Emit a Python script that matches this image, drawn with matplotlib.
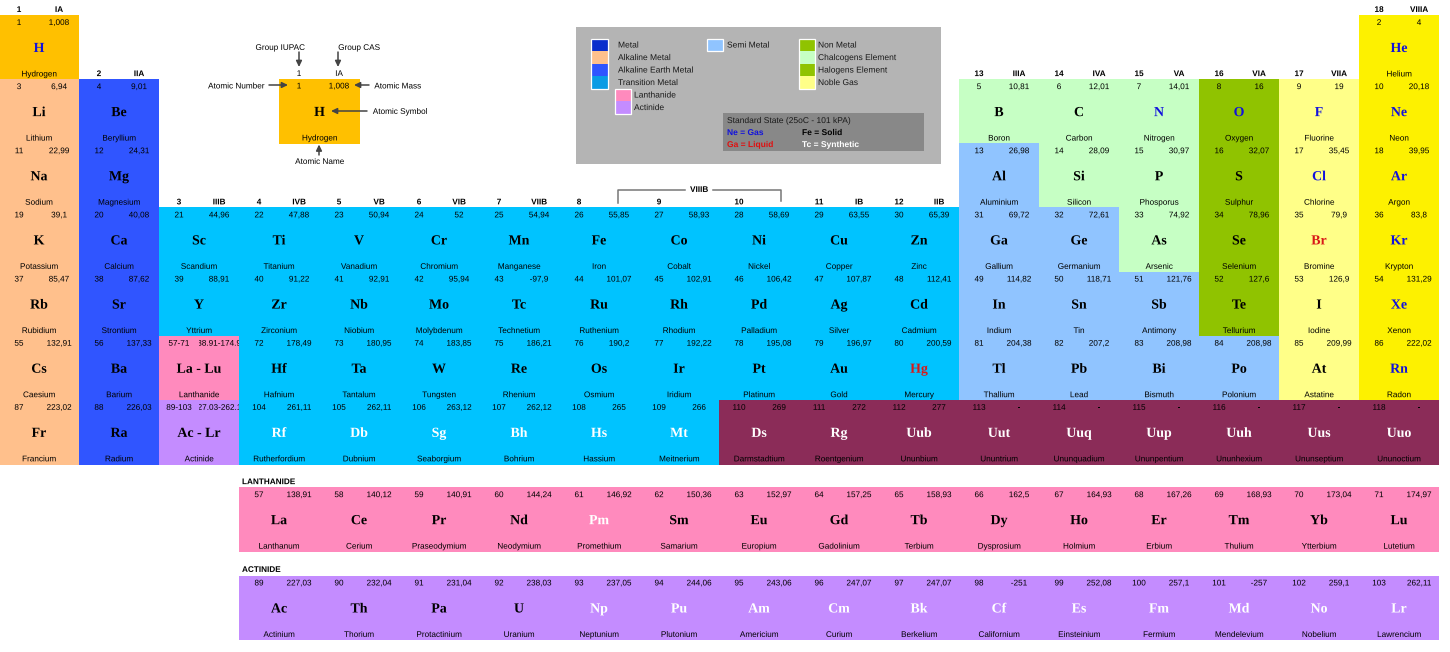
import matplotlib
matplotlib.use("Agg")
import matplotlib.pyplot as plt
import matplotlib.patheffects as pe
from matplotlib.patches import Rectangle

SANS = "Liberation Sans"
SERIF = "Liberation Serif"

# ---- data -------------------------------------------------------------
symbols = ["H","He","Li","Be","B","C","N","O","F","Ne","Na","Mg","Al","Si","P","S","Cl","Ar",
 "K","Ca","Sc","Ti","V","Cr","Mn","Fe","Co","Ni","Cu","Zn","Ga","Ge","As","Se","Br","Kr",
 "Rb","Sr","Y","Zr","Nb","Mo","Tc","Ru","Rh","Pd","Ag","Cd","In","Sn","Sb","Te","I","Xe",
 "Cs","Ba","La - Lu","Hf","Ta","W","Re","Os","Ir","Pt","Au","Hg","Tl","Pb","Bi","Po","At","Rn",
 "Fr","Ra","Ac - Lr","Rf","Db","Sg","Bh","Hs","Mt","Ds","Rg","Uub","Uut","Uuq","Uup","Uuh","Uus","Uuo"]
names = ["Hydrogen","Helium","Lithium","Beryllium","Boron","Carbon","Nitrogen","Oxygen","Fluorine","Neon",
 "Sodium","Magnesium","Aluminium","Silicon","Phosporus","Sulphur","Chlorine","Argon",
 "Potassium","Calcium","Scandium","Titanium","Vanadium","Chromium","Manganese","Iron","Cobalt","Nickel","Copper","Zinc","Gallium","Germanium","Arsenic","Selenium","Bromine","Krypton",
 "Rubidium","Strontium","Yttrium","Zirconium","Niobium","Molybdenum","Technetium","Ruthenium","Rhodium","Palladium","Silver","Cadmium","Indium","Tin","Antimony","Tellurium","Iodine","Xenon",
 "Caesium","Barium","Lanthanide","Hafnium","Tantalum","Tungsten","Rhenium","Osmium","Iridium","Platinum","Gold","Mercury","Thallium","Lead","Bismuth","Polonium","Astatine","Radon",
 "Francium","Radium","Actinide","Rutherfordium","Dubnium","Seaborgium","Bohrium","Hassium","Meitnerium","Darmstadtium","Roentgenium","Ununbium","Ununtrium","Ununquadium","Ununpentium","Ununhexium","Ununseptium","Ununoctium"]
numbers = ["1","2","3","4","5","6","7","8","9","10","11","12","13","14","15","16","17","18",
 "19","20","21","22","23","24","25","26","27","28","29","30","31","32","33","34","35","36",
 "37","38","39","40","41","42","43","44","45","46","47","48","49","50","51","52","53","54",
 "55","56","57-71","72","73","74","75","76","77","78","79","80","81","82","83","84","85","86",
 "87","88","89-103","104","105","106","107","108","109","110","111","112","113","114","115","116","117","118"]
masses = ["1,008","4","6,94","9,01","10,81","12,01","14,01","16","19","20,18",
 "22,99","24,31","26,98","28,09","30,97","32,07","35,45","39,95",
 "39,1","40,08","44,96","47,88","50,94","52","54,94","55,85","58,93","58,69","63,55","65,39","69,72","72,61","74,92","78,96","79,9","83,8",
 "85,47","87,62","88,91","91,22","92,91","95,94","-97,9","101,07","102,91","106,42","107,87","112,41","114,82","118,71","121,76","127,6","126,9","131,29",
 "132,91","137,33","138.91-174.97","178,49","180,95","183,85","186,21","190,2","192,22","195,08","196,97","200,59","204,38","207,2","208,98","208,98","209,99","222,02",
 "223,02","226,03","227.03-262.11","261,11","262,11","263,12","262,12","265","266","269","272","277","-","-","-","-","-","-"]
# column / row in the main table
cols = [0,17,0,1,12,13,14,15,16,17,0,1,12,13,14,15,16,17] + list(range(18))*4
rows = [0,0,1,1,1,1,1,1,1,1,2,2,2,2,2,2,2,2] + [3]*18 + [4]*18 + [5]*18 + [6]*18
kinds = ["hyd","nob","alk","ear","chl","chl","chl","non","hal","nob",
 "alk","ear","sem","chl","chl","non","hal","nob",
 "alk","ear"]+["tra"]*10+["sem","sem","chl","non","hal","nob"]+[
 "alk","ear"]+["tra"]*10+["sem","sem","sem","non","hal","nob"]+[
 "alk","ear","lan"]+["tra"]*9+["sem","sem","sem","sem","hal","nob"]+[
 "alk","ear","act"]+["tra"]*6+["unk"]*9

lan_symbols = ["La","Ce","Pr","Nd","Pm","Sm","Eu","Gd","Tb","Dy","Ho","Er","Tm","Yb","Lu"]
lan_names = ["Lanthanum","Cerium","Praseodymium","Neodymium","Promethium","Samarium","Europium","Gadolinium","Terbium","Dysprosium","Holmium","Erbium","Thulium","Ytterbium","Lutetium"]
lan_numbers = ["57","58","59","60","61","62","63","64","65","66","67","68","69","70","71"]
lan_masses = ["138,91","140,12","140,91","144,24","146,92","150,36","152,97","157,25","158,93","162,5","164,93","167,26","168,93","173,04","174,97"]
act_symbols = ["Ac","Th","Pa","U","Np","Pu","Am","Cm","Bk","Cf","Es","Fm","Md","No","Lr"]
act_names = ["Actinium","Thorium","Protactinium","Uranium","Neptunium","Plutonium","Americium","Curium","Berkelium","Californium","Einsteinium","Fermium","Mendelevium","Nobelium","Lawrencium"]
act_numbers = ["89","90","91","92","93","94","95","96","97","98","99","100","101","102","103"]
act_masses = ["227,03","232,04","231,04","238,03","237,05","244,06","243,06","247,07","247,07","-251","252,08","257,1","-257","259,1","262,11"]

gas = {"H","He","N","O","F","Ne","Cl","Ar","Kr","Xe","Rn"}
liquid = {"Br","Hg"}
synthetic = {"Rf","Db","Sg","Bh","Hs","Mt","Ds","Rg","Uub","Uut","Uuq","Uup","Uuh","Uus","Uuo",
             "Pm","Np","Pu","Am","Cm","Bk","Cf","Es","Fm","Md","No","Lr"}

group_cols = list(range(18))
group_rows = [0,1,3,3,3,3,3,3,3,3,3,3,1,1,1,1,1,0]
group_iupac = ["1","2","3","4","5","6","7","8","9","10","11","12","13","14","15","16","17","18"]
group_cas = ["IA","IIA","IIIB","IVB","VB","VIB","VIIB","","","","IB","IIB","IIIA","IVA","VA","VIA","VIIA","VIIIA"]

legend_col1 = ["Metal","Alkaline Metal","Alkaline Earth Metal","Transition Metal"]
legend_col1_colors = ["#0A2ECC","#FFC08C","#3055FF","#0B9CE5"]
legend_sub = ["Lanthanide","Actinide"]
legend_sub_colors = ["#FF8ABD","#C48CFF"]
legend_col3 = ["Non Metal","Chalcogens Element","Halogens Element","Noble Gas"]
legend_col3_colors = ["#90C300","#C6FFC4","#90C300","#FFFF88"]

palette = {"hyd":"#FFC000","alk":"#FFC08C","ear":"#3055FF","tra":"#00C3FF","sem":"#90C4FF",
           "chl":"#C6FFC4","non":"#90C300","hal":"#FFFF88","nob":"#FDF100","unk":"#8B2C58",
           "lan":"#FF8ABD","act":"#C48CFF"}
BLUE = "#1212DC"; RED = "#D81818"

# ---- layout -----------------------------------------------------------
W, H = 1450, 652
CW, CH = 80.0, 64.15
X0, Y0 = -1.0, 15.0
LAN_Y, ACT_Y = 487.2, 575.5
SMALL = 5.9
SYM = 10.0
OUTLINE = [pe.Normal()]   # draws real text through vector paths, so no per-string pixel snapping

fig = plt.figure(figsize=(W/100, H/100), dpi=100)
ax = fig.add_axes([0, 0, 1, 1])
ax.set_xlim(0, W); ax.set_ylim(H, 0); ax.axis("off")

def txt(x, y, s, size=SMALL, weight="normal", color="black", family=SANS, ha="center", cap=0.716, **kw):
    # y is the centre of the capital height
    base = y + cap/2*size*100/72
    return ax.text(x, base, s, fontsize=size, fontweight=weight, color=color, family=family,
                   ha=ha, va="baseline", path_effects=OUTLINE, **kw)

def sym_color(sym):
    if sym in gas: return BLUE
    if sym in liquid: return RED
    if sym in synthetic: return "white"
    return "black"

def cell(left, top, num, mass, sym, name, color, symcolor):
    ax.add_patch(Rectangle((left, top), CW, CH + 0.5, facecolor=color, edgecolor="none",
                           antialiased=False, zorder=1))
    txt(left+20, top+7, num, zorder=3)
    t = txt(left+60, top+7, mass, zorder=3)
    # the mass column is a fixed box: long range labels are cut off at its edges
    t.set_clip_path(Rectangle((left+40, top), 40, 14, transform=ax.transData))
    t.set_clip_on(True)
    txt(left+40, top+32, sym, size=SYM, weight="bold", family=SERIF, color=symcolor, zorder=3)
    txt(left+40, top+58.5, name, zorder=3)

for c, r, n, m, s, nm, k in zip(cols, rows, numbers, masses, symbols, names, kinds):
    cell(X0+CW*c, Y0+CH*r, n, m, s, nm, palette[k], sym_color(s))

for i in range(15):
    cell(X0+CW*(3+i), LAN_Y, lan_numbers[i], lan_masses[i], lan_symbols[i], lan_names[i],
         palette["lan"], sym_color(lan_symbols[i]))
    cell(X0+CW*(3+i), ACT_Y, act_numbers[i], act_masses[i], act_symbols[i], act_names[i],
         palette["act"], sym_color(act_symbols[i]))

txt(242, LAN_Y-6, "LANTHANIDE", weight="bold", ha="left")
txt(242, ACT_Y-6.5, "ACTINIDE", weight="bold", ha="left")

for c, r, a, b in zip(group_cols, group_rows, group_iupac, group_cas):
    left = X0+CW*c; top = Y0+CH*r
    txt(left+20, top-6, a, weight="bold")
    if b:
        txt(left+60, top-6, b, weight="bold")

# VIIIB bracket
ax.plot([618, 618, 685], [203, 189.5, 189.5], color="#777777", lw=1.1, zorder=2)
ax.plot([713, 781, 781], [189.5, 189.5, 200.5], color="#777777", lw=1.1, zorder=2)
txt(699, 189, "VIIIB", weight="bold")

# key cell
ax.add_patch(Rectangle((279, 79), 81, 65, facecolor=palette["hyd"], edgecolor="none", antialiased=False))
txt(299, 73, "1"); txt(339, 73, "IA")
txt(299, 85.5, "1"); txt(339, 85.5, "1,008")
txt(319.5, 111, "H", size=SYM, weight="bold", family=SERIF)
txt(319.5, 137.5, "Hydrogen")

for x, y, s in [(280,47,"Group IUPAC"),(359,47,"Group CAS"),(236,85.5,"Atomic Number"),
                (397.5,85.5,"Atomic Mass"),(400,111,"Atomic Symbol"),(319.5,161,"Atomic Name")]:
    txt(x, y, s)

for (x1, y1, x2, y2) in [(299,52,299,67),(338,52,338,67),(269,85,288,85),(369,85,354,85),
                         (367,111,331,111),(319,155,319,144.5)]:
    ax.annotate("", xy=(x2, y2), xytext=(x1, y1), zorder=4,
                arrowprops=dict(arrowstyle="-|>,head_width=0.17,head_length=0.35", color="#444444",
                                lw=1.1, shrinkA=0, shrinkB=0, mutation_scale=10))

# legend
ax.add_patch(Rectangle((576, 27), 365, 137, facecolor="#B4B4B4", edgecolor="none", antialiased=False, zorder=1))
ax.add_patch(Rectangle((723, 113), 201, 38, facecolor="#888888", edgecolor="none", antialiased=False, zorder=1))
STEP = 12.5
def swatches(x, y, w, colors):
    for i, col in enumerate(colors):
        ax.add_patch(Rectangle((x, y+i*STEP), w, STEP, facecolor=col, edgecolor="none",
                               antialiased=False, zorder=2))
    ax.add_patch(Rectangle((x, y), w, STEP*len(colors), facecolor="none", edgecolor="white", lw=0.9, zorder=2.5))
def ltexts(x, y, labels):
    for i, s in enumerate(labels):
        txt(x, y+i*STEP, s, size=6.1, ha="left", color="#1a1a1a", zorder=3)

swatches(591.5, 38.5, 16.5, legend_col1_colors)
ltexts(618, 44.5, legend_col1)
swatches(615.5, 88.5, 16, legend_sub_colors)
ltexts(634, 94.5, legend_sub)
swatches(707.5, 38.5, 16, [palette["sem"]])
ltexts(727, 44.5, ["Semi Metal"])
swatches(799.5, 38.5, 16, legend_col3_colors)
ltexts(818, 44.5, legend_col3)

txt(727, 120, "Standard State (25oC - 101 kPA)", size=6.1, ha="left", color="#1a1a1a", zorder=3)
txt(727, 132, "Ne = Gas", size=6.1, weight="bold", color="#1212DC", ha="left", zorder=3)
txt(727, 144, "Ga = Liquid", size=6.1, weight="bold", color="#E01010", ha="left", zorder=3)
txt(802, 132, "Fe = Solid", size=6.1, weight="bold", color="black", ha="left", zorder=3)
txt(802, 144, "Tc = Synthetic", size=6.1, weight="bold", color="white", ha="left", zorder=3)

fig.savefig("out.png", dpi=100)
